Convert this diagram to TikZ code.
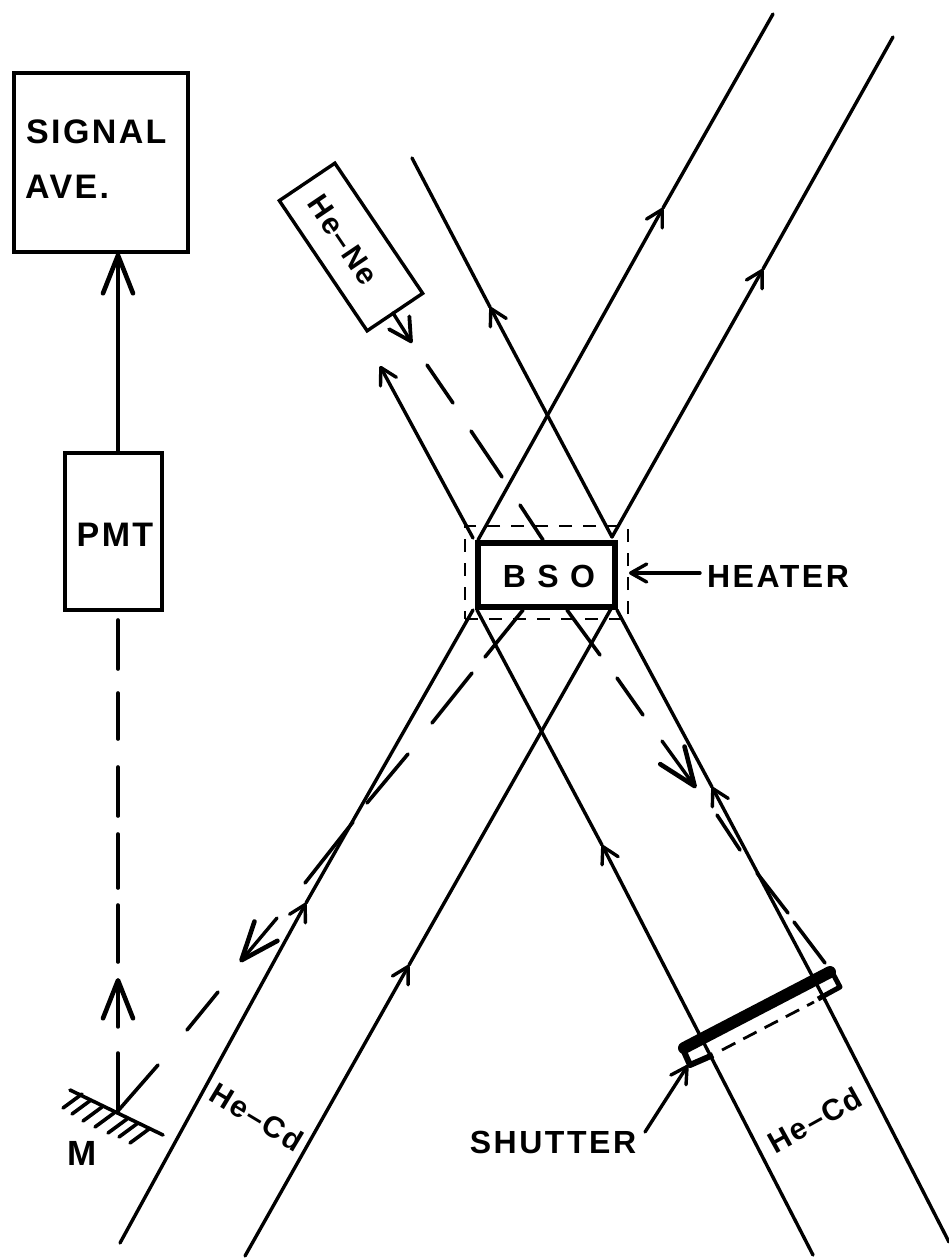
\documentclass[tikz,border=0pt]{standalone}
\usepackage{fontspec}
\usetikzlibrary{arrows.meta}
\newfontfamily\labfont[LetterSpace=6]{Liberation Sans Bold}
\newfontfamily\capfont[LetterSpace=7]{Liberation Sans Bold}
\newfontfamily\capfontb[LetterSpace=8]{Liberation Sans Bold}
\tikzset{
  beam/.style={line width=3.4pt,line cap=round},
  smalltip/.style={beam,-{Straight Barb[length=16pt,width=18pt,line width=3.4pt,round]}},
  midtip/.style={beam,-{Straight Barb[length=22pt,width=24pt,line width=3.8pt,round]}},
  bigtip/.style={beam,-{Straight Barb[length=38pt,width=30pt,line width=4.6pt,round]}},
  dashseg/.style={line width=3.6pt,line cap=round},
  instrument/.style={draw,line width=3.4pt,rectangle,inner sep=0pt},
  caplabel/.style={inner sep=0pt,font=\capfont\fontsize{34}{36}\selectfont},
  caplabelb/.style={inner sep=0pt,font=\capfontb\fontsize{32}{34}\selectfont},
  gas/.style={inner sep=0pt,font=\labfont\fontsize{30}{32}\selectfont},
}
\begin{document}
\begin{tikzpicture}[x=1pt,y=-1pt]
\fill[white] (0,0) rectangle (949,1258);
\useasboundingbox (0,0) rectangle (949,1258);

% boxes
\node[instrument,minimum width=174pt,minimum height=179pt] (sig) at (101,162.5) {};
\node[caplabel,anchor=base west] (sigt) at (26,143) {SIGNAL};
\node[caplabel,anchor=base west] (avet) at (25,198) {AVE.};
\node[instrument,minimum width=97pt,minimum height=157pt] (pmt) at (113.5,531.5) {};
\node[caplabel,anchor=base] (pmtt) at (115,546) {PMT};
\node[draw,line width=5.5pt,rectangle,inner sep=0pt,minimum width=137pt,minimum height=64pt] (bso) at (546.5,575) {};
\node[caplabelb,anchor=base] (bsot) at (549,587) {B S O};
\node[draw,line width=2.8pt,rectangle,dash pattern=on 13pt off 11pt,inner sep=0pt,minimum width=163pt,minimum height=93pt] (heat) at (546.5,572.5) {};
\node[caplabelb,anchor=base] (heatt) at (778,587) {HEATER};
\node[draw,line width=3.4pt,rectangle,inner sep=0pt,minimum width=157pt,minimum height=67pt,rotate=-56] (hene) at (351,247) {};
\node[gas,rotate=-56] (henet) at (343,240) {He–Ne};
\node[gas,rotate=-31] (cdl) at (257,1117) {He–Cd};
\node[gas,rotate=29] (cdr) at (815,1120) {He–Cd};
\node[caplabelb,anchor=base] (shut) at (553,1153) {SHUTTER};
\node[inner sep=0pt,font=\capfontb\fontsize{35}{36}\selectfont,anchor=base] (m) at (82,1165) {M};

% coordinates of the beams
\coordinate (A0) at (120,1243); \coordinate (A1) at (473,610);
\coordinate (A2) at (478,540);  \coordinate (A3) at (773,14);
\coordinate (B0) at (245,1256); \coordinate (B1) at (612,607);
\coordinate (B2) at (612,537);  \coordinate (B3) at (893,37);
\coordinate (C0) at (813,1255); \coordinate (C1) at (477,610);
\coordinate (D0) at (949,1242); \coordinate (D1) at (617,610);
\coordinate (E0) at (612,537);  \coordinate (E1) at (412,158);
\coordinate (F0) at (473,538);
\coordinate (tA) at (306,903);  \coordinate (tA2) at (663,208);
\coordinate (tB) at (409,965);  \coordinate (tB2) at (763,269);
\coordinate (tC) at (602,845);  \coordinate (tD) at (712,787);
\coordinate (tE) at (490,307);  \coordinate (tF) at (380,366);
\coordinate (dbend) at (825,1000);

% solid beams with arrows
\draw[smalltip] (A0) -- (tA); \draw[beam] (tA) -- (A1);
\draw[smalltip] (A2) -- (tA2); \draw[beam] (tA2) -- (A3);
\draw[smalltip] (B0) -- (tB); \draw[beam] (tB) -- (B1);
\draw[smalltip] (B2) -- (tB2); \draw[beam] (tB2) -- (B3);
\draw[smalltip] (C0) -- (tC); \draw[beam] (tC) -- (C1);
\draw[beam] (D0) -- (dbend); \draw[smalltip] (dbend) -- (tD); \draw[beam] (tD) -- (D1);
\draw[smalltip] (E0) -- (tE); \draw[beam] (tE) -- (E1);
\draw[smalltip] (F0) -- (tF);

% detector line
\coordinate (pmtout) at (118,453); \coordinate (sigin) at (118,253);
\draw[bigtip] (pmtout) -- (sigin);

% He-Ne dashed beam
\coordinate (hn0) at (393,313); \coordinate (hn1) at (412,343);
\draw[midtip] (hn0) -- (hn1);
\foreach \a/\b/\c/\d in {427/365/453/403, 471/431/502/477, 520/505/543/540, 567/610/600/655, 617/678/643/715, 717/815/740/850, 757/873/788/913, 794/922/825/963}
  \draw[dashseg] (\a,\b) -- (\c,\d);
\coordinate (hn2) at (662,741); \coordinate (hn3) at (696,788);
\draw[bigtip] (hn2) -- (hn3);

% reflected dashed beam
\foreach \a/\b/\c/\d in {523/610/485/657, 472/673/432/723, 408/754/367/803, 353/822/305/883, 218/992/187/1030, 158/1065/117/1112}
  \draw[dashseg] (\a,\b) -- (\c,\d);
\coordinate (rf0) at (277,918); \coordinate (rf1) at (240,962);
\draw[bigtip] (rf0) -- (rf1);

% vertical dashed beam
\foreach \a/\b in {620/669, 693/739, 767/816, 834/888, 905/962, 1053/1112}
  \draw[dashseg] (118,\a) -- (118,\b);
\coordinate (vf0) at (118,1027); \coordinate (vf1) at (118,978);
\draw[bigtip] (vf0) -- (vf1);

% mirror
\draw[line width=3.6pt,line cap=round] (70,1090) -- (163,1135);
\foreach \x/\y in {63/1108, 72/1114, 83/1121, 95/1127, 108/1133, 119/1137, 130/1143}
  \draw[line width=3.6pt,line cap=round] (\x,\y) -- ++(19,-14);

% shutter
\draw[line width=12pt,line cap=round] (684,1048) -- (830,972);
\draw[line width=6pt,line join=round] (682,1047) -- (690,1065) -- (713,1055);
\draw[line width=5pt,line join=round] (831,970) -- (840,987) -- (818,999);
\draw[line width=2.8pt,dash pattern=on 15pt off 9pt] (722,1050) -- (814,1002);

% labels with arrows
\coordinate (hfrom) at (700,573); \coordinate (hto) at (629,573);
\draw[smalltip] (hfrom) -- (hto);
\coordinate (sfrom) at (645,1132); \coordinate (sto) at (688,1065);
\draw[smalltip] (sfrom) -- (sto);
\end{tikzpicture}
\end{document}
